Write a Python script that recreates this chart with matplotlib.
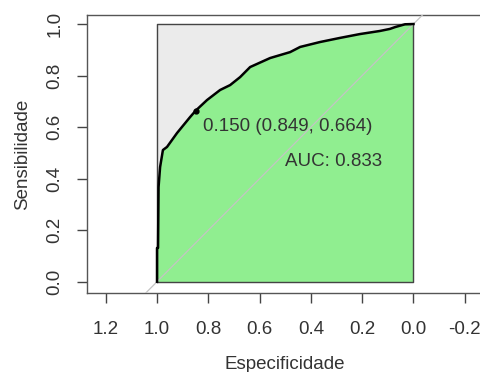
import numpy as np
import matplotlib.pyplot as plt

plt.rcParams['font.family'] = ['Liberation Sans', 'DejaVu Sans']

# curva ROC (especificidade, sensibilidade)
especificidade = [1.0, 1.0, 0.996, 0.994, 0.988, 0.977, 0.961, 0.922, 0.871, 0.849,
                  0.805, 0.754, 0.715, 0.676, 0.637, 0.559, 0.481, 0.442, 0.365,
                  0.326, 0.287, 0.209, 0.131, 0.092, 0.072, 0.033, 0.0]
sensibilidade = [0.0, 0.131, 0.131, 0.367, 0.445, 0.511, 0.523, 0.577, 0.639, 0.664,
                 0.705, 0.744, 0.763, 0.794, 0.833, 0.868, 0.891, 0.911, 0.930,
                 0.938, 0.946, 0.961, 0.973, 0.981, 0.988, 0.999, 1.0]

limiar = 0.150
limiar_esp = 0.849
limiar_sen = 0.664
auc = 0.833

x_ticks = [1.2, 1.0, 0.8, 0.6, 0.4, 0.2, 0.0, -0.2]
y_ticks = [0.0, 0.2, 0.4, 0.6, 0.8, 1.0]

fig = plt.figure(figsize=(4.8, 3.72), dpi=100)
ax = fig.add_axes([87/480, 79/372, 396/480, 278/372])

cor_txt = '#333333'
fs = 13.5

# quadrado cinza de fundo
ax.fill([1, 0, 0, 1], [0, 0, 1, 1], color='#ebebeb', zorder=1)
# area sob a curva
esp = np.array(especificidade)
sen = np.array(sensibilidade)
ax.fill_between(esp, 0, sen, color='#90ee90', lw=0, zorder=2)
ax.plot([1, 0, 0, 1, 1], [0, 0, 1, 1, 0], color='#444444', lw=1, zorder=3)

# diagonal
ax.axline((1, 0), (0, 1), color='#c4c4c4', lw=0.9, zorder=4)

ax.plot(esp, sen, color='black', lw=1.8, zorder=5)
ax.plot(limiar_esp, limiar_sen, 'o', color='black', ms=3.5, zorder=6)

ax.text(limiar_esp - 0.028, limiar_sen - 0.06,
        f'{limiar:.3f} ({limiar_esp:.3f}, {limiar_sen:.3f})',
        ha='left', va='center', fontsize=fs, color=cor_txt, zorder=7)
ax.text(0.5, 0.5, f'AUC: {auc:.3f}', ha='left', va='top',
        fontsize=fs, color=cor_txt, zorder=7)

ax.set_xlim(1.273, -0.271)
ax.set_ylim(-0.0438, 1.035)
ax.set_xticks(x_ticks)
ax.set_xticklabels([f'{v:.1f}' for v in x_ticks])
ax.set_yticks(y_ticks)
ax.set_yticklabels([f'{v:.1f}' for v in y_ticks], rotation=90, va='center')

ax.tick_params(length=7, width=1, color='#444444', labelsize=fs,
               labelcolor=cor_txt)
ax.tick_params(axis='x', pad=13)
ax.tick_params(axis='y', pad=10)
for s in ax.spines.values():
    s.set_color('#555555')
    s.set_linewidth(1)

ax.set_xlabel('Especificidade', fontsize=fs, color=cor_txt, labelpad=13)
ax.set_ylabel('Sensibilidade', fontsize=fs, color=cor_txt, labelpad=11)

fig.savefig('out.png', dpi=100)
